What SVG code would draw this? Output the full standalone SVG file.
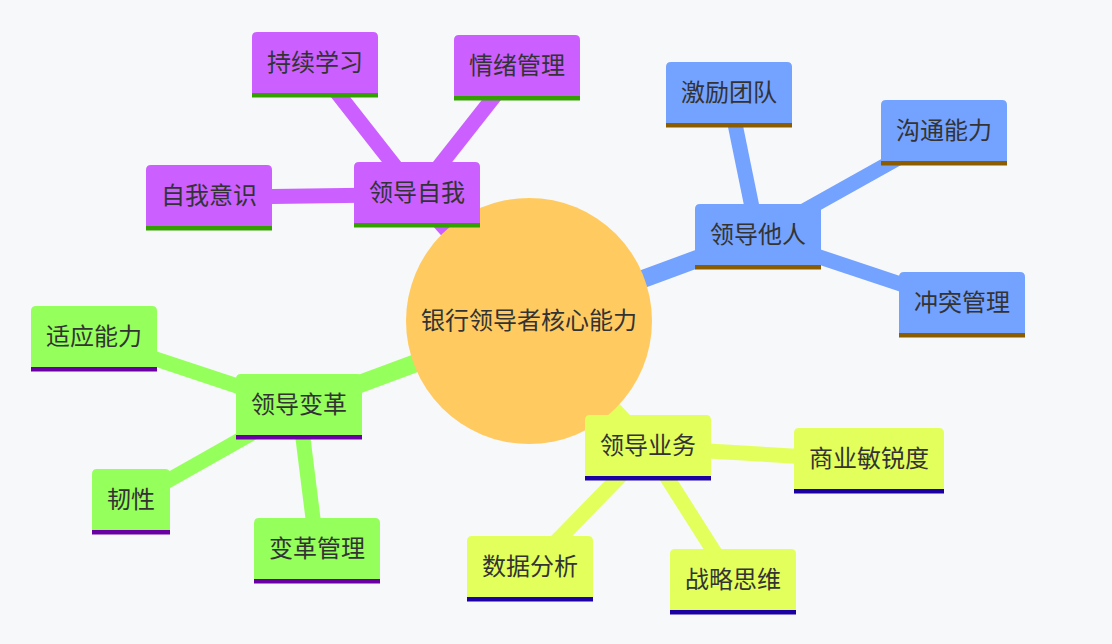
<svg xmlns="http://www.w3.org/2000/svg" xmlns:xlink="http://www.w3.org/1999/xlink" width="1112" height="644" viewBox="0 0 1112 644">
<style>
text{font-family:"Noto Sans CJK SC","Noto Sans",sans-serif;font-size:24px;fill:#333;text-anchor:middle}
.e0{stroke-width:18;stroke-linecap:butt;fill:none}
.e1{stroke-width:15;stroke-linecap:butt;fill:none}
.s0{stroke:#cb5fff}.s1{stroke:#74a2ff}.s2{stroke:#95ff5c}.s3{stroke:#e2ff5c}
.f0{fill:#cb5fff}.f1{fill:#74a2ff}.f2{fill:#95ff5c}.f3{fill:#e2ff5c}
.l0{fill:#34a000}.l1{fill:#8b5d00}.l2{fill:#6a00a3}.l3{fill:#1d00a3}
</style>
<defs>
<path id="b126" d="M0,61V5Q0,0 5,0H121Q126,0 126,5V61Z"/>
<path id="b150" d="M0,61V5Q0,0 5,0H145Q150,0 150,5V61Z"/>
<path id="b78" d="M0,61V5Q0,0 5,0H73Q78,0 78,5V61Z"/>
</defs>
<rect width="1112" height="644" fill="#f7f8fa"/>
<g id="connectors">
<line class="e0 s0" x1="529" y1="321" x2="417" y2="194.5"/>
<line class="e0 s1" x1="529" y1="321" x2="758" y2="236.5"/>
<line class="e0 s2" x1="529" y1="321" x2="299" y2="406.5"/>
<line class="e0 s3" x1="529" y1="321" x2="648" y2="447.5"/>
<line class="e1 s0" x1="417" y1="194.5" x2="315" y2="64.5"/>
<line class="e1 s0" x1="417" y1="194.5" x2="517" y2="67.5"/>
<line class="e1 s0" x1="417" y1="194.5" x2="209" y2="197.5"/>
<line class="e1 s1" x1="758" y1="236.5" x2="729" y2="94.5"/>
<line class="e1 s1" x1="758" y1="236.5" x2="944" y2="132.5"/>
<line class="e1 s1" x1="758" y1="236.5" x2="962" y2="304.5"/>
<line class="e1 s2" x1="299" y1="406.5" x2="94" y2="338.5"/>
<line class="e1 s2" x1="299" y1="406.5" x2="131" y2="501.5"/>
<line class="e1 s2" x1="299" y1="406.5" x2="317" y2="550.5"/>
<line class="e1 s3" x1="648" y1="447.5" x2="869" y2="460.5"/>
<line class="e1 s3" x1="648" y1="447.5" x2="733" y2="581.5"/>
<line class="e1 s3" x1="648" y1="447.5" x2="530" y2="568.5"/>
</g>
<g id="root">
<circle cx="529" cy="321" r="123" fill="#ffcb61"/>
<text x="529" y="328.5">银行领导者核心能力</text>
</g>
<g id="n-self" transform="translate(354,162)"><use href="#b126" class="f0"/><rect y="61" width="126" height="4.5" class="l0"/><text x="63" y="39">领导自我</text></g>
<g id="n-learn" transform="translate(252,32)"><use href="#b126" class="f0"/><rect y="61" width="126" height="4.5" class="l0"/><text x="63" y="39">持续学习</text></g>
<g id="n-emotion" transform="translate(454,35)"><use href="#b126" class="f0"/><rect y="61" width="126" height="4.5" class="l0"/><text x="63" y="39">情绪管理</text></g>
<g id="n-aware" transform="translate(146,165)"><use href="#b126" class="f0"/><rect y="61" width="126" height="4.5" class="l0"/><text x="63" y="39">自我意识</text></g>
<g id="n-others" transform="translate(695,204)"><use href="#b126" class="f1"/><rect y="61" width="126" height="4.5" class="l1"/><text x="63" y="39">领导他人</text></g>
<g id="n-motivate" transform="translate(666,62)"><use href="#b126" class="f1"/><rect y="61" width="126" height="4.5" class="l1"/><text x="63" y="39">激励团队</text></g>
<g id="n-comm" transform="translate(881,100)"><use href="#b126" class="f1"/><rect y="61" width="126" height="4.5" class="l1"/><text x="63" y="39">沟通能力</text></g>
<g id="n-conflict" transform="translate(899,272)"><use href="#b126" class="f1"/><rect y="61" width="126" height="4.5" class="l1"/><text x="63" y="39">冲突管理</text></g>
<g id="n-change" transform="translate(236,374)"><use href="#b126" class="f2"/><rect y="61" width="126" height="4.5" class="l2"/><text x="63" y="39">领导变革</text></g>
<g id="n-adapt" transform="translate(31,306)"><use href="#b126" class="f2"/><rect y="61" width="126" height="4.5" class="l2"/><text x="63" y="39">适应能力</text></g>
<g id="n-resil" transform="translate(92,469)"><use href="#b78" class="f2"/><rect y="61" width="78" height="4.5" class="l2"/><text x="39" y="39">韧性</text></g>
<g id="n-changemgmt" transform="translate(254,518)"><use href="#b126" class="f2"/><rect y="61" width="126" height="4.5" class="l2"/><text x="63" y="39">变革管理</text></g>
<g id="n-biz" transform="translate(585,415)"><use href="#b126" class="f3"/><rect y="61" width="126" height="4.5" class="l3"/><text x="63" y="39">领导业务</text></g>
<g id="n-acumen" transform="translate(794,428)"><use href="#b150" class="f3"/><rect y="61" width="150" height="4.5" class="l3"/><text x="75" y="39">商业敏锐度</text></g>
<g id="n-strategy" transform="translate(670,549)"><use href="#b126" class="f3"/><rect y="61" width="126" height="4.5" class="l3"/><text x="63" y="39">战略思维</text></g>
<g id="n-data" transform="translate(467,536)"><use href="#b126" class="f3"/><rect y="61" width="126" height="4.5" class="l3"/><text x="63" y="39">数据分析</text></g>
</svg>
